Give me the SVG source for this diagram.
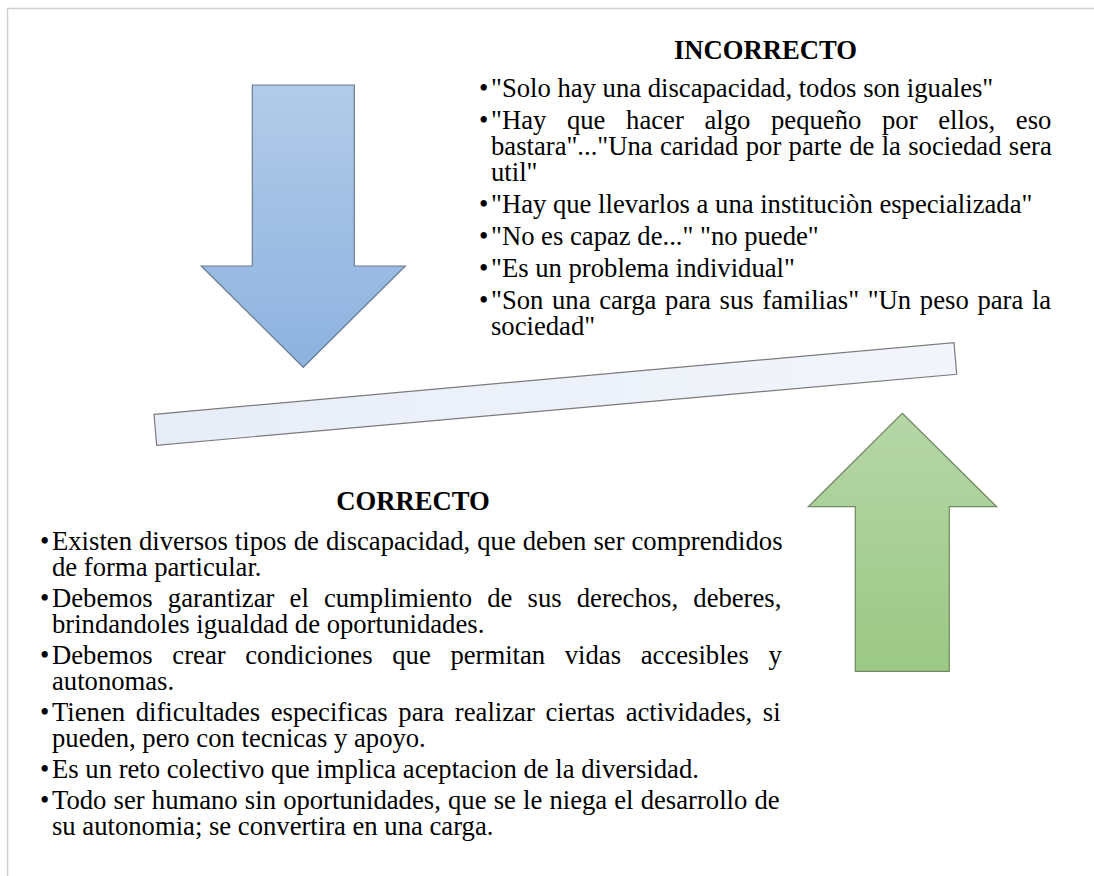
<svg xmlns="http://www.w3.org/2000/svg" width="1094" height="876" viewBox="0 0 1094 876">
  <style>
    .t { font-family: "Liberation Serif", "Times New Roman", serif; font-size: 26.67px; fill: #000; }
    .h { font-family: "Liberation Serif", "Times New Roman", serif; font-size: 26.67px; font-weight: bold; fill: #000; }
    .frame { stroke: #d0d0d0; stroke-width: 1.5; fill: none; }
  </style>
  <defs>
    <linearGradient id="gBlue" x1="0" y1="0" x2="0" y2="1">
      <stop offset="0" stop-color="#b2cbe8"/>
      <stop offset="1" stop-color="#8db2e0"/>
    </linearGradient>
    <linearGradient id="gGreen" x1="0" y1="0" x2="0" y2="1">
      <stop offset="0" stop-color="#b6d6a7"/>
      <stop offset="1" stop-color="#9bc884"/>
    </linearGradient>
    <linearGradient id="gBar" x1="0" y1="0" x2="1" y2="0">
      <stop offset="0" stop-color="#e7edf8"/>
      <stop offset="1" stop-color="#f2f5fb"/>
    </linearGradient>
  </defs>
  <rect width="1094" height="876" fill="#ffffff"/>
  <g id="frame">
    <path class="frame" d="M7.5,876 L7.5,8.5 L1094,8.5"/>
  </g>

  <g id="arrow-down">
    <polygon points="252.3,85 354.3,85 354.3,266 405.3,266 303.3,367.3 201.3,266 252.3,266" fill="url(#gBlue)" stroke="#6b7d92" stroke-width="1.2"/>
  </g>

  <g id="balance-bar">
    <polygon points="154,414.3 954,342.7 956.7,374.3 156.7,445.3" fill="url(#gBar)" stroke="#7b7b7b" stroke-width="1.2"/>
  </g>

  <g id="arrow-up">
    <polygon points="902.3,413.3 996.7,506.7 949.3,506.7 949.3,671.3 855.3,671.3 855.3,506.7 808.3,506.7" fill="url(#gGreen)" stroke="#6f8a5f" stroke-width="1.2"/>
  </g>

  <g id="incorrecto">
    <text class="h" x="765.5" y="59" text-anchor="middle">INCORRECTO</text>
    <text class="t" x="479" y="97">•</text>
    <text class="t" x="491" y="97">"Solo hay una discapacidad, todos son iguales"</text>
    <text class="t" x="479" y="129">•</text>
    <text class="t" x="491" y="129" word-spacing="14">"Hay que hacer algo pequeño por ellos, eso</text>
    <text class="t" x="491" y="155" word-spacing="0.66">bastara"..."Una caridad por parte de la sociedad sera</text>
    <text class="t" x="491" y="181">util"</text>
    <text class="t" x="479" y="213">•</text>
    <text class="t" x="491" y="213">"Hay que llevarlos a una instituciòn especializada"</text>
    <text class="t" x="479" y="245">•</text>
    <text class="t" x="491" y="245">"No es capaz de..." "no puede"</text>
    <text class="t" x="479" y="277">•</text>
    <text class="t" x="491" y="277">"Es un problema individual"</text>
    <text class="t" x="479" y="309">•</text>
    <text class="t" x="491" y="309" word-spacing="2">"Son una carga para sus familias" "Un peso para la</text>
    <text class="t" x="491" y="335">sociedad"</text>
  </g>

  <g id="correcto">
    <text class="h" x="413" y="510" text-anchor="middle">CORRECTO</text>
    <text class="t" x="40" y="550">•</text>
    <text class="t" x="52" y="550" word-spacing="0.36">Existen diversos tipos de discapacidad, que deben ser comprendidos</text>
    <text class="t" x="52" y="576">de forma particular.</text>
    <text class="t" x="40" y="607">•</text>
    <text class="t" x="52" y="607" word-spacing="8.5">Debemos garantizar el cumplimiento de sus derechos, deberes,</text>
    <text class="t" x="52" y="633">brindandoles igualdad de oportunidades.</text>
    <text class="t" x="40" y="664">•</text>
    <text class="t" x="52" y="664" word-spacing="13">Debemos crear condiciones que permitan vidas accesibles y</text>
    <text class="t" x="52" y="690">autonomas.</text>
    <text class="t" x="40" y="721">•</text>
    <text class="t" x="52" y="721" word-spacing="4">Tienen dificultades especificas para realizar ciertas actividades, si</text>
    <text class="t" x="52" y="747">pueden, pero con tecnicas y apoyo.</text>
    <text class="t" x="40" y="778">•</text>
    <text class="t" x="52" y="778">Es un reto colectivo que implica aceptacion de la diversidad.</text>
    <text class="t" x="40" y="809">•</text>
    <text class="t" x="52" y="809" word-spacing="0.5">Todo ser humano sin oportunidades, que se le niega el desarrollo de</text>
    <text class="t" x="52" y="835">su autonomia; se convertira en una carga.</text>
  </g>
</svg>
